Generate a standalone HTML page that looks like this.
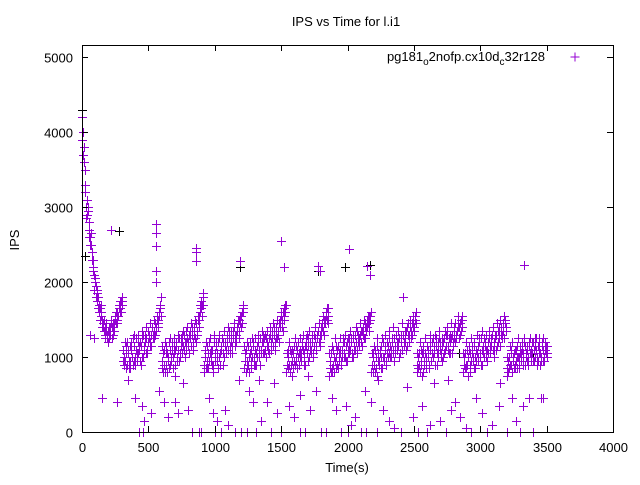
<!DOCTYPE html>
<html><head><meta charset="utf-8"><style>
body{margin:0;background:#fff}
svg text{font-family:"Liberation Sans",sans-serif;font-size:13px;fill:#000}
</style></head><body>
<svg id="chart" width="640" height="480" viewBox="0 0 640 480" xmlns="http://www.w3.org/2000/svg">
<text x="346" y="26" text-anchor="middle">IPS vs Time for l.i1</text>
<text transform="translate(19,240) rotate(-90)" text-anchor="middle">IPS</text>
<text x="347" y="472" text-anchor="middle">Time(s)</text>
<g id="marks" shape-rendering="crispEdges"></g>
<g id="axes" shape-rendering="crispEdges"></g>
<text x="545" y="61" text-anchor="end">pg181<tspan dy="4" font-size="10">o</tspan><tspan dy="-4">2nofp.cx10d</tspan><tspan dy="4" font-size="10">c</tspan><tspan dy="-4">32r128</tspan></text>
<path shape-rendering="crispEdges" d="M570.5 57h9M575 52.5v9" stroke="#9400d3" stroke-width="1"/>
</svg>
<script>
const xTicks=[0,500,1000,1500,2000,2500,3000,3500,4000];
const yTicks=[0,1000,2000,3000,4000,5000];
const sampleStep=10;
const ipsValues=[4200,3700,3500,3000,2900,2800,2600,2500,2300,2100,2000,1900,1800,1600,1700,1500,1400,1300,1450,1250,1400,1300,1500,1350,1450,1500,1600,1550,1700,1650,1750,
1100,900,1050,
900,1100,950,1200,1000,1150,900,1250,1050,1100,1200,1000,1300,1150,1250,1100,1350,1200,1300,1400,1250,1450,1350,1500,1600,1700,
850,1050,900,1150,800,1000,1100,950,1200,1050,900,1150,1100,1250,1000,1200,1150,1300,1100,1250,1200,1350,1150,1300,1400,1250,1450,1350,1500,1600,1750,1850,
900,1100,850,1050,1200,950,1100,800,1000,1150,1050,1250,900,1100,1200,1000,1150,1300,1100,1250,1200,1050,1350,1200,1300,1400,1250,1450,1550,1600,
850,1050,950,1150,800,1100,1000,1200,900,1050,1150,1000,1250,1100,1200,1050,1300,1150,1100,1250,1200,1350,1150,1300,1400,1250,1350,1450,1550,1500,1650,1600,
800,1000,900,1100,750,1050,950,1150,850,1000,1100,950,1200,1050,900,1150,1250,1000,1100,1200,1050,1300,1150,1250,1350,1200,1300,1400,1500,1450,1600,1550,
750,950,850,1100,800,1000,900,1150,1050,950,1100,1200,1000,1150,1050,1250,1100,1200,1000,1150,1300,1050,1200,1250,1350,1150,1300,1400,1350,1500,1450,1550,
800,1000,900,1100,750,1050,950,1150,850,1000,1100,950,1200,1050,1150,1000,1100,1250,1050,1200,1150,1000,1250,1100,1300,1200,1350,1150,1300,1400,1250,1450,1350,1500,
800,1000,900,1100,750,1050,950,850,1150,1000,1100,950,1200,1050,900,1150,1000,1250,1100,950,1200,1050,1150,1300,1100,1200,1250,1050,1350,1200,1300,1400,1250,1450,1500,
800,1000,900,1100,750,1050,950,1150,850,1000,1100,950,1200,1050,900,1150,1250,1000,1100,1200,1050,1150,1300,1000,1250,1100,1200,1350,1150,1300,1400,1250,1450,
750,950,850,1050,800,1000,900,1100,850,1000,1150,950,1050,1200,900,1100,1000,1150,950,1050,1200,1000,1100,900,1150,1050,950,1100,1000,1200,1050];
const ipsValuesHalfStep=[4000,3600,3300,3100,2950,2700,2650,2400,2200,2050,1950,1850,1700,1650,1550,1450,1350,1400,1300,1350,1250,1450,1400,1300,1550,1450,1500,1650,1600,1750,1800,
1000,950,1150,
1050,850,1150,1000,1250,950,1100,1050,1200,950,1150,1250,1100,1300,1050,1200,1300,1150,1400,1250,1350,1400,1500,1450,1650,1550,
950,1100,800,1050,950,1200,900,1100,1000,1150,1200,1000,1250,1050,1150,1300,1100,1200,1350,1150,1300,1250,1400,1200,1350,1450,1300,1500,1550,1650,1700,1800,
1000,850,1150,950,1050,1100,900,1200,1050,950,1200,1000,1150,1250,1050,1200,1100,1250,1350,1150,1300,1250,1400,1150,1350,1450,1500,1400,1600,1700,
950,1100,850,1000,1200,950,1150,900,1100,1000,1200,1100,1050,1200,1300,1100,1250,1200,1050,1300,1150,1250,1400,1200,1350,1300,1450,1500,1400,1600,1550,1700,
900,1100,800,1050,950,1150,900,1000,1200,1050,1000,1150,1100,950,1250,1050,1150,1200,1050,1300,1150,1250,1100,1350,1200,1300,1450,1350,1450,1550,1500,1650,
850,1050,800,1000,950,1150,850,1050,1100,1000,1200,1050,950,1200,1100,1150,1250,1050,1250,1100,1200,1350,1150,1300,1200,1400,1250,1450,1400,1450,1550,1600,
900,1050,800,1000,1150,900,1050,1000,1200,950,1150,1050,1000,1250,1100,1200,1050,1150,1300,1100,1250,1050,1200,1300,1150,1250,1400,1300,1200,1350,1450,1400,1550,1450,
900,1050,800,950,1150,900,1050,1000,1100,900,1200,1050,1000,1150,1250,1050,1100,1200,1000,1150,1250,1100,1300,1150,1250,1050,1300,1200,1400,1250,1350,1450,1300,1500,1400,
900,1050,850,1000,1150,900,1050,1000,1200,950,1050,1150,1000,1250,1100,1000,1200,1100,1050,1250,1150,1300,1100,1200,1300,1150,1350,1250,1400,1300,1350,1500,1400,
850,1000,900,1100,950,1050,850,1150,1000,900,1050,1100,1000,1150,1050,950,1200,1050,1100,950,1100,1250,1000,1150,1050,1000,1200,950,1100,1050,1150];
const ipsValuesQuarterStep=[3900,3800,3200,2850,3000,2600,2500,2300,2150,1900,1800,1750,1650,1500,1600,1400,1500,1250,1350,1200,1300,1400,1250,1450,1350,1600,1450,1550,1750,1600,1700,
950,1200,850,
1200,950,850,1100,900,1300,1000,950,1300,1150,900,1350,1000,1200,1400,1050,1250,1450,1150,1300,1500,1300,1550,1400,1550,1800,
1150,800,1200,900,1050,850,1250,1000,850,1250,1100,950,1300,950,1250,1050,1350,1000,1200,1400,1050,1250,1450,1100,1300,1500,1200,1550,1400,1700,1550,1700,
800,1200,950,850,1250,1050,900,1300,950,1200,850,1300,1050,1250,900,1350,1050,1200,1400,1050,1350,1150,1450,1300,1200,1500,1350,1550,1450,1650,
1150,800,1200,900,1050,850,1250,1000,1250,900,1300,1050,900,1350,1050,1250,1000,1350,1150,1400,1100,1300,1450,1100,1250,1500,1200,1400,1600,1350,1500,1700,
1050,850,1200,900,1100,850,1250,950,1100,900,1250,1050,1300,900,1150,1300,950,1350,1100,1250,1000,1400,1100,1300,1450,1150,1400,1550,1300,1500,1650,1450,
1050,800,1150,900,1250,850,1100,950,1250,900,1250,1000,1300,950,1250,1050,1350,1000,1300,1100,1400,1100,1300,1450,1200,1350,1500,1250,1400,1550,1350,1500,
1050,800,1150,850,1250,950,1100,850,1250,1000,1300,900,1150,1350,1000,1250,1400,950,1300,1100,1350,1050,1300,1450,1200,1350,1100,1450,1250,1500,1300,1550,1400,1600,
1050,850,1200,900,1050,800,1250,950,1150,850,1300,950,1250,1050,1300,900,1200,1350,1050,1250,1000,1350,1150,1400,1050,1300,1450,1150,1250,1450,1350,1550,1400,1350,1550,
1050,850,1200,900,1100,800,1250,950,1150,850,1300,1000,1250,900,1350,1050,1150,1300,950,1350,1100,1250,1400,1100,1300,1450,1200,1400,1500,1250,1450,1550,1350,
1000,800,1150,900,1200,850,1100,950,1250,850,1050,1200,900,1250,1000,1150,900,1250,1050,1200,950,1150,1250,950,1250,900,1150,1250,950,1150,1000];
const outlierTimes=[150,260,220,555,555,560,555,555,860,860,860,1190,1500,1520,1780,1790,2010,2150,2170,2420,2380,3330,3280,400,450,470,430,460,520,580,620,650,700,720,760,800,830,880,900,960,990,1020,1050,1080,1100,1150,1180,1200,1260,1290,1310,1350,1390,1420,1450,1470,1500,1560,1600,1640,1680,1720,1760,1800,1840,1880,1910,1950,1990,2030,2060,2100,2130,2180,2220,2270,2310,2350,2400,2450,2490,2530,2560,2600,2620,2650,2700,2740,2780,2810,2850,2890,2930,2970,3010,3050,3090,3140,3200,3240,3270,3300,3320,3370,3400,3460,3470,1000,1240,1640,2000,2140,60,90,350,700,1330,1700,2230,2760,3150];
const outlierValues=[450,400,2700,2780,2650,2480,2150,2000,2450,2400,2280,2280,2550,2200,2220,2150,2440,2220,2100,1800,1200,2230,1000,450,350,150,0,0,250,550,400,200,400,250,650,300,0,0,0,450,250,150,0,300,100,0,700,0,550,400,0,150,400,0,650,250,0,350,200,500,0,300,550,0,0,450,300,0,350,100,200,0,550,400,0,300,150,50,0,600,200,0,350,0,100,650,150,0,300,400,200,50,0,450,250,0,100,350,0,450,150,0,350,450,0,450,450,0,0,0,0,0,1300,1250,700,750,700,750,700,700,650];
const blackTimes=[0,20,280,1980,2170,2840,3400,1190,1780];
const blackValues=[4300,2350,2680,2200,2230,1050,1000,2200,2150];

const X0=82,X1=613,Y0=432,YTOP=45;
const xs=t=>X0+t*(X1-X0)/4000;
const ys=v=>Y0-v*(Y0-57)/5000;
const NS='http://www.w3.org/2000/svg';
const marks=document.getElementById('marks'),axes=document.getElementById('axes');
function plus(t,v,color,name){
  const x=Math.round(xs(t))+0.5,y=Math.round(ys(v))+0.5;
  const p=document.createElementNS(NS,'path');
  p.setAttribute('d',`M${x-4.5} ${y}h9M${x} ${y-4.5}v9`);
  p.setAttribute('stroke',color);p.setAttribute('fill','none');
  p.setAttribute('stroke-width','1.2');
  
  
  marks.appendChild(p);
}
blackTimes.forEach((t,i)=>plus(t,blackValues[i],'#000','black-point'));
ipsValues.forEach((v,i)=>plus(i*sampleStep,v,'#9400d3','ips-point'));
ipsValuesHalfStep.forEach((v,i)=>plus(i*sampleStep+sampleStep/2,v,'#9400d3','ips-point'));
ipsValuesQuarterStep.forEach((v,i)=>plus(i*sampleStep+sampleStep/4,v,'#9400d3','ips-point'));
outlierTimes.forEach((t,i)=>plus(t,outlierValues[i],'#9400d3','ips-outlier-point'));
function line(d,name){const p=document.createElementNS(NS,'path');p.setAttribute('d',d);p.setAttribute('stroke','#000');p.setAttribute('fill','none');


axes.appendChild(p);}
function txt(x,y,s,anchor,name){const t=document.createElementNS(NS,'text');t.setAttribute('x',x);t.setAttribute('y',y);t.setAttribute('text-anchor',anchor);t.textContent=s;


axes.appendChild(t);}
line(`M${X0+.5} ${YTOP+.5}H${X1+.5}V${Y0+.5}H${X0+.5}Z`,'plot-border');
xTicks.forEach(t=>{const x=Math.round(xs(t))+.5;line(`M${x} ${Y0}v-6M${x} ${YTOP}v6`,'x-tick');txt(x,452,String(t),'middle','x-tick-label');});
yTicks.forEach(v=>{const y=Math.round(ys(v))+.5;line(`M${X0} ${y}h6M${X1} ${y}h-6`,'y-tick');txt(73,y+5,String(v),'end','y-tick-label');});
</script>
</body></html>
